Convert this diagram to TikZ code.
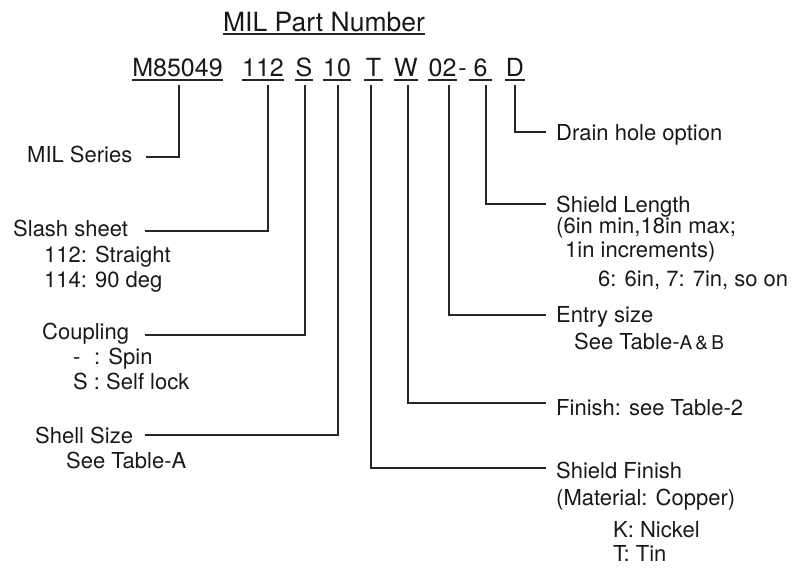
\documentclass[tikz,border=0pt]{standalone}
\usepackage{fontspec}
\setmainfont{TeX Gyre Heros}
\usetikzlibrary{positioning, calc}

\newcommand{\labelfont}{\fontsize{22}{25}\selectfont}
\newcommand{\partfont}{\fontsize{25}{28}\selectfont}

\begin{document}
\begin{tikzpicture}[x=1pt, y=-1pt]

  \tikzset{
    partnode/.style={
        anchor=base,
        inner sep=0pt,
        font=\partfont,
        text=black!90
      },
    labelnode/.style={
        anchor=base west,
        inner sep=0pt,
        font=\labelfont,
        text=black!90
      },
    leader/.style={line width=1.4pt, draw=black!85}
  }

  \useasboundingbox (0,0) rectangle (795,568);

  % part number
  \node[partnode, font=\fontsize{26.5}{30}\selectfont] (title) at (324,31) {MIL Part Number};

  \node[partnode, minimum width=91pt] (p1) at (177.5,76) {M85049};
  \node[partnode, minimum width=40pt] (p2) at (263,76) {112};
  \node[partnode, minimum width=16pt] (p3) at (304,76) {S};
  \node[partnode, minimum width=28pt] (p4) at (337,76) {10};
  \node[partnode, minimum width=19pt] (p5) at (373.5,76) {T};
  \node[partnode, minimum width=22pt] (p6) at (406,76) {W};
  \node[partnode, minimum width=27pt] (p7) at (442.5,76) {02};
  \node[partnode] (pdash) at (462.5,76) {-};
  \node[partnode, minimum width=23pt] (p8) at (480.5,76) {6};
  \node[partnode, minimum width=20pt] (p9) at (515,76) {D};

  \draw[leader] ([yshift=-3pt]title.base west) -- ([yshift=-3pt]title.base east);
  \foreach \i in {1,...,9}
    \draw[leader] ([yshift=-4pt]p\i.base west) -- ([yshift=-4pt]p\i.base east);

  % left labels
  \node[labelnode] (milser) at (27,162) {MIL Series};

  \node[labelnode] (slash) at (13,236) {Slash sheet};
  \node[labelnode] (slasha) at (44,262) {112: Straight};
  \node[labelnode] (slashb) at (44,287) {114: 90 deg};

  \node[labelnode] (coup) at (42,339) {Coupling};
  \node[labelnode] (coupa) at (73,364) {\makebox[21pt][l]{-}: Spin};
  \node[labelnode] (coupb) at (73,389) {S : Self lock};

  \node[labelnode] (shell) at (35,443) {Shell Size};
  \node[labelnode] (shella) at (66,468) {See Table-A};

  % right labels
  \node[labelnode] (drain) at (556,140) {Drain hole option};

  \node[labelnode] (slen) at (556,212) {Shield Length};
  \node[labelnode] (slena) at (556,233) {(6in min,18in max;};
  \node[labelnode] (slenb) at (565,257) {1in increments)};
  \node[labelnode] (slenc) at (598,286) {6: 6in, 7: 7in, so on};

  \node[labelnode] (entry) at (556,322) {Entry size};
  \node[labelnode] (entrya) at (574,349) {See Table-{\fontsize{19}{22}\selectfont A\,\&\,B}};

  \node[labelnode] (fin) at (556,415) {Finish: see Table-2};

  \node[labelnode] (sfin) at (556,478) {Shield Finish};
  \node[labelnode] (sfina) at (556,505) {(Material: Copper)};
  \node[labelnode] (sfinb) at (613,537) {K: Nickel};
  \node[labelnode] (sfinc) at (613,561) {T: Tin};

  % leaders
  \draw[leader] ([xshift=1.5pt,yshift=-9pt]p1.base) |- ([xshift=13pt,yshift=5pt]milser.base east);
  \draw[leader] ([xshift=5pt,yshift=-9pt]p2.base) |- ([xshift=17pt,yshift=5pt]slash.base east);
  \draw[leader] ([xshift=1pt,yshift=-9pt]p3.base) |- ([xshift=16pt,yshift=4pt]coup.base east);
  \draw[leader] ([xshift=1pt,yshift=-9pt]p4.base) |- ([xshift=12pt,yshift=8pt]shell.base east);

  \draw[leader] ([xshift=-2.5pt,yshift=-9pt]p5.base) |- ([xshift=-10pt,yshift=10pt]sfin.base west);
  \draw[leader] ([xshift=2pt,yshift=-9pt]p6.base) |- ([xshift=-10pt,yshift=12pt]fin.base west);
  \draw[leader] ([xshift=6.5pt,yshift=-9pt]p7.base) |- ([xshift=-10pt,yshift=7pt]entry.base west);
  \draw[leader] ([xshift=5.5pt,yshift=-9pt]p8.base) |- ([xshift=-10pt,yshift=8pt]slen.base west);
  \draw[leader] ([yshift=-9pt]p9.base) |- ([xshift=-10pt,yshift=8pt]drain.base west);

\end{tikzpicture}
\end{document}
